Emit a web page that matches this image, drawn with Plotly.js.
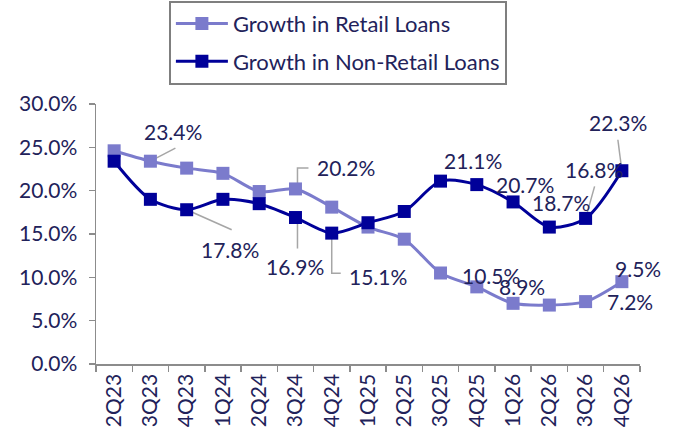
<!DOCTYPE html>
<html><head><meta charset="utf-8">
<script src="https://cdn.plot.ly/plotly-3.0.1.min.js"></script>
<style>html,body{margin:0;padding:0;background:#fff}#c{width:678px;height:434px}</style>
</head><body><div id="c"></div>
<script>
const quarters = ['2Q23','3Q23','4Q23','1Q24','2Q24','3Q24','4Q24','1Q25','2Q25','3Q25','4Q25','1Q26','2Q26','3Q26','4Q26'];
const retailGrowth = [24.6, 23.4, 22.6, 22.0, 19.9, 20.2, 18.1, 15.8, 14.4, 10.5, 8.9, 7.0, 6.8, 7.2, 9.5];
const nonRetailGrowth = [23.4, 19.0, 17.8, 19.0, 18.5, 16.9, 15.1, 16.3, 17.6, 21.1, 20.7, 18.7, 15.8, 16.8, 22.3];
const yTicks = [0, 5, 10, 15, 20, 25, 30];

const NAVY = '#22225a', AXIS = '#8c8c8c', LIGHT = '#7b7bcc', DARK = '#000099';
const FONT = 'Lato, "Noto Sans", sans-serif';

// label placements: [series, index, xshift, yshift, leader path (pixels from the point, up = +)]
const labelSpecs = [
  ['r', 1, 23, 30, 'M0,0L25,13'],
  ['n', 2, 43, -40, 'M0,0L45,-20'],
  ['r', 5, 51, 21, 'M2,0L2,21L13,21'],
  ['n', 5, 0, -49, 'M2,0L2,-31'],
  ['n', 6, 46, -43, 'M0,0L0,-40L9,-40'],
  ['n', 9, 32, 21, null],
  ['n', 10, 48, 0, null],
  ['n', 11, 48, -1, null],
  ['n', 13, 8, 49, 'M0,0L9,32'],
  ['n', 14, -4, 48, 'M0,0L-4,31'],
  ['r', 9, 50, -2, null],
  ['r', 10, 45, 0, null],
  ['r', 14, 16, 13, null],
  ['r', 13, 44, 0, null]
];

const annotations = [], shapes = [];
labelSpecs.forEach(([s, i, dx, dy, path]) => {
  const v = (s === 'r' ? retailGrowth : nonRetailGrowth)[i];
  annotations.push({x: quarters[i], y: v, xref: 'x', yref: 'y', text: v.toFixed(1) + '%',
    showarrow: false, xshift: dx, yshift: dy, font: {family: FONT, size: 21, color: NAVY}});
  if (path) shapes.push({type: 'path', xref: 'x', yref: 'y', xsizemode: 'pixel', ysizemode: 'pixel',
    xanchor: quarters[i], yanchor: v, path: path, layer: 'below', line: {color: '#a6a6a6', width: 1.5}});
});

const traces = [
  {x: quarters, y: retailGrowth, name: 'Growth in Retail Loans', type: 'scatter', mode: 'lines+markers',
   legendgroup: 'a', line: {color: LIGHT, width: 3, shape: 'spline', smoothing: 0.8},
   marker: {symbol: 'square', size: 13, color: LIGHT}, cliponaxis: false},
  {x: quarters, y: nonRetailGrowth, name: 'Growth in Non-Retail Loans', type: 'scatter', mode: 'lines+markers',
   legendgroup: 'b', line: {color: DARK, width: 3, shape: 'spline', smoothing: 0.8},
   marker: {symbol: 'square', size: 13, color: DARK}, cliponaxis: false}
];

const layout = {
  width: 678, height: 434,
  margin: {l: 96, r: 38, t: 104, b: 70, autoexpand: false},
  paper_bgcolor: '#fff', plot_bgcolor: '#fff',
  font: {family: FONT, size: 21, color: NAVY},
  showlegend: true,
  legend: {x: 0.134, xanchor: 'left', y: 1.397, yanchor: 'top', xref: 'paper', yref: 'paper',
    bordercolor: '#7f7f7f', borderwidth: 2, bgcolor: '#fff', traceorder: 'grouped', tracegroupgap: 6,
    itemwidth: 52, font: {family: FONT, size: 22, color: NAVY}},
  xaxis: {type: 'category', range: [-0.5, quarters.length - 0.5], showgrid: false, zeroline: false,
    showline: true, linecolor: AXIS, linewidth: 1.5,
    ticks: 'outside', tickson: 'boundaries', ticklen: 6, tickcolor: AXIS, tickwidth: 1.5, automargin: false,
    tickangle: -90, tickfont: {family: FONT, size: 21, color: NAVY}, fixedrange: true},
  yaxis: {range: [0, 30], tickvals: yTicks, ticktext: yTicks.map(t => t.toFixed(1) + '%'),
    showgrid: false, zeroline: false, showline: true, linecolor: AXIS, linewidth: 1.5, automargin: false,
    ticks: 'outside', ticklen: 6, tickcolor: AXIS, tickwidth: 1.5, ticklabelstandoff: 7,
    tickfont: {family: FONT, size: 21, color: NAVY}, fixedrange: true},
  annotations: annotations, shapes: shapes
};

Plotly.newPlot('c', traces, layout, {displayModeBar: false, staticPlot: true});
</script></body></html>
